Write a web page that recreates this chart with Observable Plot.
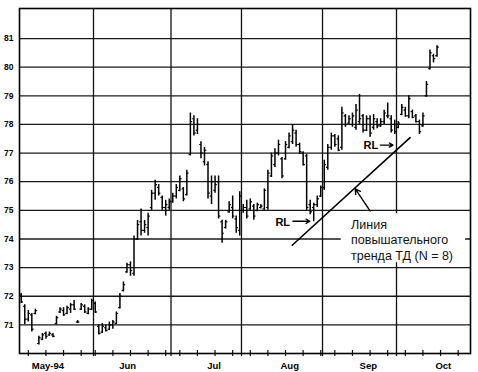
<!DOCTYPE html>
<html><head><meta charset="utf-8">
<script src="https://cdn.jsdelivr.net/npm/d3@7"></script>
<script src="https://cdn.jsdelivr.net/npm/@observablehq/plot@0.6"></script>
<style>body{margin:0;background:#fff}</style>
</head><body><div id="chart"></div>
<script>
// Trading sessions per month (1994), used as the x axis (one slot per session)
const monthNames = ["May-94", "Jun", "Jul", "Aug", "Sep", "Oct"];
const mayDays = [2,3,4,5,6,9,10,11,12,13,16,17,18,19,20,23,24,25,26,27,31];
const junDays = [1,2,3,6,7,8,9,10,13,14,15,16,17,20,21,22,23,24,27,28,29,30];
const julDays = [1,5,6,7,8,11,12,13,14,15,18,19,20,21,22,25,26,27,28,29];
const augDays = [1,2,3,4,5,8,9,10,11,12,15,16,17,18,19,22,23,24,25,26,29,30,31];
const sepDays = [1,2,6,7,8,9,12,13,14,15,16,19,20,21,22,23,26,27,28,29,30];
const octDays = [3,4,5,6,7,10,11,12,13,14,17,18,19,20,21,24,25,26,27,28,31];
// month label positions (session index)
const monthLabelAt = [8.05, 30.7, 55.2, 76.7, 99, 120.3];
const yTicks = [71,72,73,74,75,76,77,78,79,80,81];

// OHLC values, one per session from May 2 to Oct 18
const high = [
  72.10,71.70,71.50,71.40,71.55,70.60,70.70,70.75,70.75,70.70,71.30,71.60,71.60,71.65,71.75,71.85,71.15,71.75,71.70,71.60,71.90,
  71.80,71.00,71.05,71.00,71.10,71.15,71.45,72.10,72.50,73.15,73.20,74.10,74.65,75.05,74.65,74.90,75.70,76.05,75.90,75.50,75.35,75.40,
  75.60,75.90,76.20,75.80,76.40,78.40,78.30,78.20,77.40,77.20,76.70,76.20,76.20,76.20,74.65,74.65,75.30,75.50,74.80,75.65,
  75.20,75.35,75.40,75.20,75.25,75.20,75.75,76.40,77.00,77.15,77.45,76.85,77.40,77.70,78.00,77.80,77.35,77.05,76.95,75.35,75.25,75.50,75.85,
  76.75,77.30,77.70,77.65,77.60,78.60,78.35,78.30,78.40,78.70,79.05,78.35,78.30,78.30,78.35,78.20,78.20,78.50,78.75,78.30,78.15,
  78.10,78.70,78.60,79.00,78.50,78.35,78.15,78.40,79.50,80.60,80.45,80.75
];
const low = [
  71.75,71.00,71.10,70.75,71.35,70.30,70.45,70.50,70.60,70.55,71.00,71.40,71.30,71.35,71.40,71.50,71.05,71.50,71.40,71.35,71.50,
  71.40,70.65,70.70,70.75,70.80,70.85,71.00,71.55,72.15,72.80,72.70,72.70,73.95,74.10,74.20,74.10,75.00,75.35,75.50,75.00,74.80,75.00,
  75.25,75.40,75.65,75.30,75.50,76.90,77.60,77.65,76.80,76.55,75.40,75.20,75.60,74.70,73.85,74.35,74.90,74.70,74.20,74.10,
  74.90,74.70,75.00,74.65,74.95,75.05,75.00,75.00,76.15,76.50,76.90,76.10,76.75,77.15,77.30,77.20,76.95,76.55,75.00,74.85,74.60,75.10,75.45,
  75.70,76.40,77.10,77.20,77.05,77.10,77.90,78.00,77.90,77.80,78.00,77.70,77.75,77.55,77.80,77.85,77.90,78.00,78.20,77.70,77.65,
  77.85,78.30,78.25,78.20,78.20,78.05,77.65,77.90,78.95,79.90,80.15,80.35
];
const open = [
  72.05,71.65,71.20,71.35,71.40,70.35,70.50,70.70,70.65,70.65,71.05,71.45,71.50,71.40,71.55,71.70,71.10,71.55,71.65,71.40,71.55,
  71.75,70.95,70.75,70.90,70.85,71.00,71.05,71.60,72.20,72.85,73.10,72.80,74.00,74.60,74.30,74.40,75.10,75.60,75.80,75.45,75.10,75.10,
  75.30,75.50,75.70,75.75,75.55,76.95,78.20,77.80,77.30,76.70,76.60,75.50,75.70,76.00,74.60,74.40,74.95,75.10,74.70,74.30,
  75.00,75.10,75.05,75.15,75.00,75.10,75.05,75.10,76.20,76.60,77.00,76.80,76.80,77.20,77.40,77.70,77.30,77.00,76.90,75.20,75.10,75.20,75.50,
  75.80,76.50,77.20,77.60,77.50,77.20,78.30,78.05,78.00,77.90,78.10,78.30,77.80,78.20,77.90,78.10,77.95,78.10,78.30,78.20,78.00,
  77.90,78.35,78.50,78.30,78.45,78.30,78.10,77.95,79.00,79.95,80.40,80.40
];
const close = [
  71.80,71.20,71.40,70.85,71.50,70.55,70.65,70.60,70.70,70.60,71.25,71.55,71.35,71.60,71.70,71.55,71.10,71.70,71.45,71.55,71.85,
  71.45,70.70,70.95,70.80,71.00,71.10,71.40,72.00,72.40,73.10,72.90,74.00,74.50,74.30,74.50,74.80,75.60,75.90,75.60,75.10,75.20,75.30,
  75.50,75.80,76.10,75.40,76.30,78.10,77.70,78.00,77.00,77.10,75.60,76.00,75.90,74.80,74.20,74.60,75.20,74.80,74.40,75.50,
  75.10,74.80,75.30,74.80,75.20,75.15,75.70,76.30,76.90,77.00,77.30,76.20,77.30,77.60,77.80,77.30,77.05,76.60,75.10,74.95,75.20,75.40,75.80,
  76.60,77.20,77.60,77.30,77.10,78.40,78.00,78.20,78.30,78.50,78.20,77.80,78.20,77.70,78.20,77.95,78.10,78.40,78.30,77.80,77.75,
  78.05,78.60,78.30,78.90,78.25,78.10,77.75,78.30,79.40,80.50,80.30,80.70
];

// TD demand line (session index, price) and annotations
const tdLine = [{i: 77.4, p: 73.78}, {i: 110.85, p: 77.54}];
const rlLabels = [{i: 76.8, p: 74.57}, {i: 101.8, p: 77.28}];
const rlArrows = [{i1: 77.6, i2: 82.4, p: 74.62}, {i1: 102.4, i2: 106.0, p: 77.28}];
const calloutText = "Линия\nповышательного\nтренда ТД (N = 8)";
const callout = {i: 94.1, p: 74.74};
const calloutBox = {i1: 91.3, i2: 126.6, p1: 73.17, p2: 74.88};
const calloutArrow = {i1: 99.5, p1: 74.98, i2: 95.3, p2: 75.75};

// ---- build tables ----
const monthDays = [mayDays, junDays, julDays, augDays, sepDays, octDays];
const sessions = [];
monthDays.forEach((days, m) => days.forEach(d => sessions.push(new Date(1994, 4 + m, d))));
const monthStart = [];
let acc = 0;
monthDays.forEach(days => { monthStart.push(acc); acc += days.length; });
const bars = high.map((h, i) => ({x: i + 0.5, high: h, low: low[i], open: open[i], close: close[i]}));
const wedTicks = sessions.map((d, i) => ({d, i})).filter(o => o.d.getDay() === 3).map(o => o.i + 0.5);

const chart = Plot.plot({
  width: 478, height: 372,
  marginLeft: 19, marginRight: 8, marginTop: 8, marginBottom: 19,
  style: {fontFamily: "'Liberation Sans', Arial, sans-serif", background: "white", overflow: "visible", color: "black"},
  x: {domain: [0, sessions.length], axis: null},
  y: {domain: [70, 82.05], axis: null},
  marks: [
    Plot.ruleY(yTicks, {stroke: "#1a1a1a", strokeWidth: 1.3}),
    Plot.ruleX(monthStart.slice(1), {stroke: "#111", strokeWidth: 1.3, insetBottom: -3}),
    Plot.ruleX(wedTicks, {y1: 70, y2: 70, insetTop: -3, insetBottom: -3, stroke: "#111", strokeWidth: 1.2}),
    Plot.rect([calloutBox], {x1: "i1", x2: "i2", y1: "p1", y2: "p2", fill: "white"}),
    Plot.ruleX(bars, {x: "x", y1: "low", y2: "high", stroke: "black", strokeWidth: 1.5}),
    Plot.link(bars, {x1: d => d.x - 0.5, x2: "x", y1: "open", y2: "open", stroke: "black", strokeWidth: 1.2}),
    Plot.link(bars, {x1: "x", x2: d => d.x + 0.5, y1: "close", y2: "close", stroke: "black", strokeWidth: 1.2}),
    Plot.line(tdLine, {x: "i", y: "p", stroke: "black", strokeWidth: 1.6}),
    Plot.arrow([calloutArrow], {x1: "i1", y1: "p1", x2: "i2", y2: "p2", stroke: "black", strokeWidth: 1.4, headLength: 6}),
    Plot.arrow(rlArrows, {x1: "i1", x2: "i2", y1: "p", y2: "p", stroke: "black", strokeWidth: 1.3, headLength: 5}),
    Plot.text(rlLabels, {x: "i", y: "p", text: () => "RL", textAnchor: "end", fontWeight: "bold", fontSize: 11, fill: "black"}),
    Plot.text([callout], {x: "i", y: "p", text: () => calloutText, textAnchor: "start", lineAnchor: "top", lineHeight: 1.24, fontSize: 12.5, fill: "#111"}),
    Plot.text(yTicks, {x: 0, y: d => d, text: d => String(d), textAnchor: "end", dx: -6, fontWeight: "bold", fontSize: 8.5, fill: "black"}),
    Plot.text(monthNames, {x: (d, i) => monthLabelAt[i], y: 70, dy: 12, text: d => d, fontWeight: "bold", fontSize: 9.5, fill: "black"}),
    Plot.frame({stroke: "black", strokeWidth: 1.6})
  ]
});
document.getElementById("chart").appendChild(chart);
</script>
</body></html>
